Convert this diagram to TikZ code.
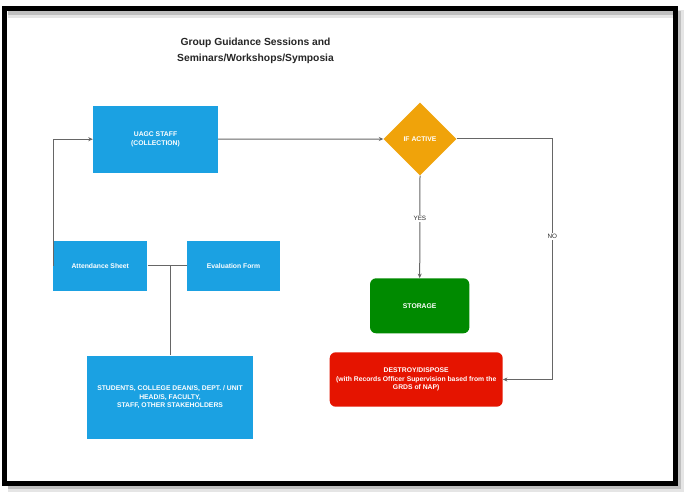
\documentclass[tikz,border=0pt]{standalone}
\usepackage{fontspec}
\setmainfont{Liberation Sans}
\usetikzlibrary{shapes.geometric,arrows.meta}
\definecolor{boxblue}{HTML}{1BA1E2}
\definecolor{boxorange}{HTML}{F0A30A}
\definecolor{boxgreen}{HTML}{008A00}
\definecolor{boxred}{HTML}{E51400}
\definecolor{linegray}{HTML}{666666}
\tikzset{
  box/.style={fill=boxblue, draw=none, text=white, font=\bfseries\fontsize{6.8}{8.3}\selectfont, align=center, inner sep=0pt},
  rbox/.style={box, rounded corners=6pt},
  conn/.style={draw=linegray, line width=1pt},
  arr/.style={conn, -{Stealth[length=4.5pt,width=4pt]}},
  elabel/.style={fill=white, inner sep=1pt, font=\fontsize{6.3}{7}\selectfont, text=black!85},
}
\begin{document}
\begin{tikzpicture}[x=1pt,y=-1pt]
\useasboundingbox (0,0) rectangle (685,492);
\fill[white] (0,0) rectangle (685,492);
% frame shadow (soft) and frame
\draw[gray!20, line width=8pt] (8,14) -- (680,14) -- (680,488) -- (8,488);
\draw[gray!50, line width=4pt] (8,13) -- (678.5,13) -- (678.5,486.5) -- (8,486.5);
\draw[black, line width=5pt] (4.5,8.5) rectangle (675.5,483.5);

% title
\node[font=\bfseries\fontsize{10.3}{16}\selectfont, text=black!85, align=center] (title) at (255.5,51) {Group Guidance Sessions and\\Seminars/Workshops/Symposia};

% nodes
\node[box, minimum width=125pt, minimum height=67pt] (uagc) at (155.5,139.2) {UAGC STAFF\\(COLLECTION)};
\node[box, minimum width=94pt, minimum height=50pt] (att) at (100.3,265.7) {Attendance Sheet};
\node[box, minimum width=93.6pt, minimum height=50pt] (eval) at (233.5,265.7) {Evaluation Form};
\node[box, minimum width=165.4pt, minimum height=83.3pt] (stud) at (170,397.3) {STUDENTS, COLLEGE DEAN/S, DEPT. / UNIT\\HEAD/S, FACULTY,\\STAFF, OTHER STAKEHOLDERS};
\node[box, fill=boxorange, diamond, shape aspect=1, minimum width=73pt, minimum height=73pt] (dia) at (420,139) {IF ACTIVE};
\node[rbox, fill=boxgreen, minimum width=99.3pt, minimum height=55pt] (stor) at (419.7,305.8) {STORAGE};
\node[rbox, fill=boxred, minimum width=173pt, minimum height=54.4pt] (dest) at (416.2,379.5) {DESTROY/DISPOSE\\(with Records Officer Supervision based from the\\GRDS of NAP)};

% connectors
\coordinate (jn) at (stud.north |- att.east);
\coordinate (nocorner) at (552.3,139);
\coordinate (nocorner2) at (552.3,379.5);
\draw[conn] (att.east) -- (eval.west);
\draw[conn] (jn) -- (stud.north);
\draw[arr] (att.west) |- (uagc.west);
\draw[arr] (uagc.east) -- (dia.west);
\draw[arr] (dia.south) -- node[elabel, pos=0.42] {YES} (stor.north);
\draw[arr] (dia.east) -- (nocorner) -- node[elabel, pos=0.405] {NO} (nocorner2) -- (dest.east);
\end{tikzpicture}
\end{document}
